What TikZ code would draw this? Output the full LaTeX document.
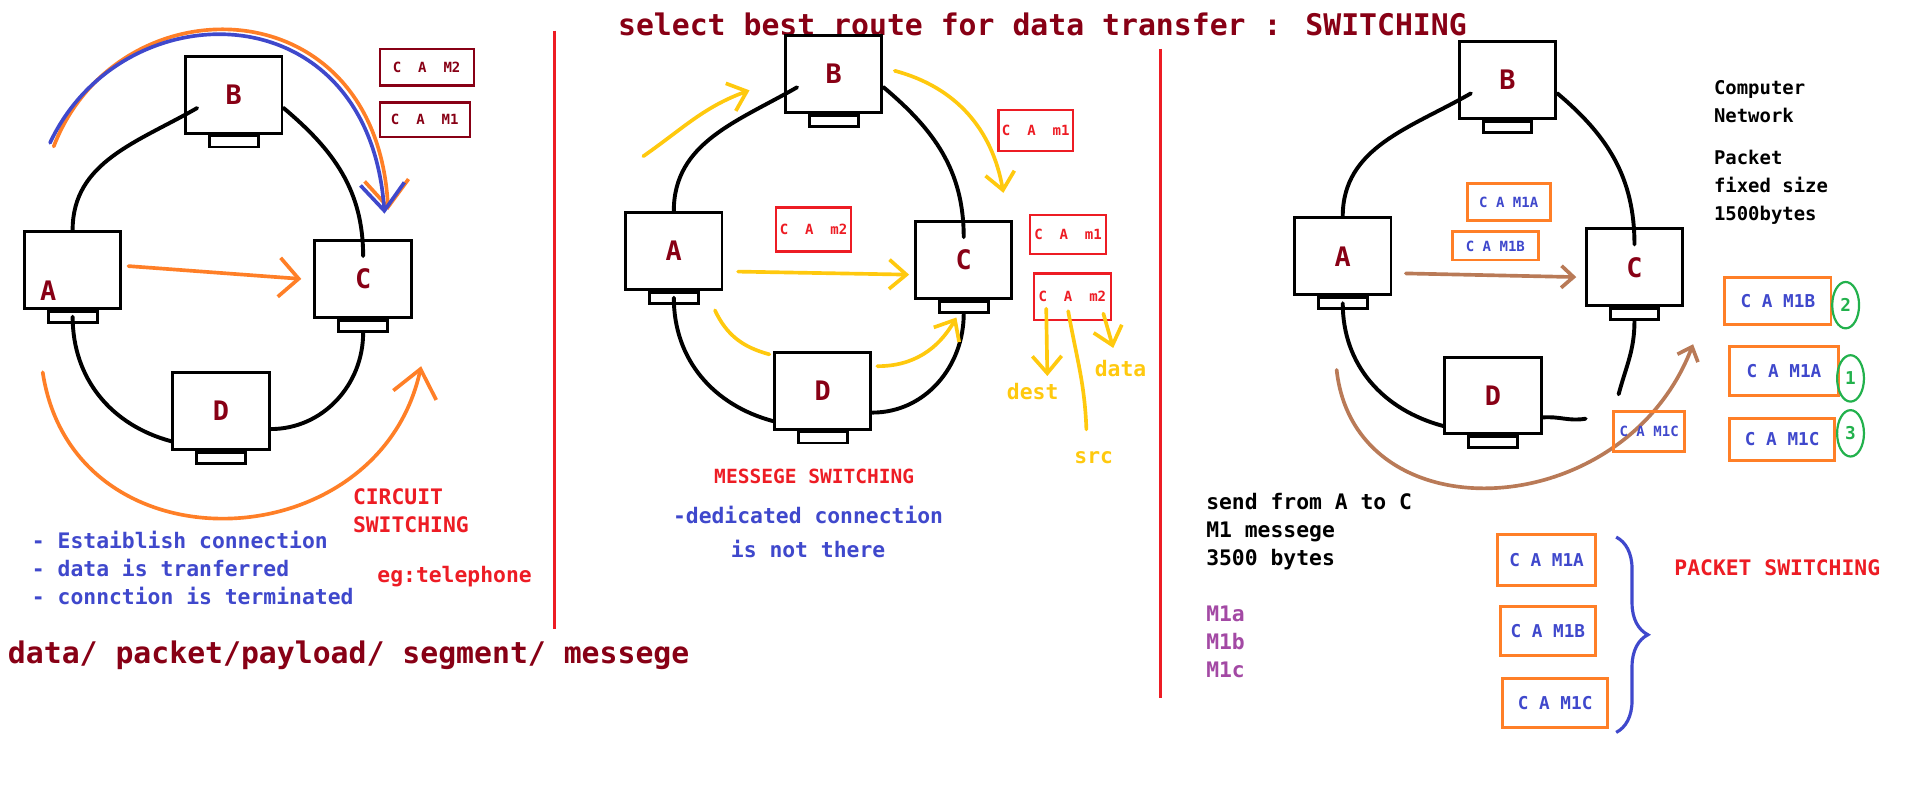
\documentclass[tikz,border=0pt]{standalone}
\usepackage{fontspec}
\setmainfont{DejaVu Sans Mono}
\usetikzlibrary{positioning, arrows.meta, calc, shapes.geometric, decorations.pathreplacing}
\definecolor{dred}{HTML}{880015}
\definecolor{pred}{HTML}{ED1C24}
\definecolor{pblue}{HTML}{3F48CC}
\definecolor{porange}{HTML}{FF7F27}
\definecolor{pyellow}{HTML}{FFC90E}
\definecolor{pbrown}{HTML}{B97A57}
\definecolor{ppurple}{HTML}{A349A4}
\definecolor{pgreen}{HTML}{22B14C}
\newcommand{\hdfont}{\fontsize{24.4}{28}\selectfont\bfseries}
\newcommand{\pcfont}{\fontsize{22}{24}\selectfont\bfseries}
\newcommand{\txfont}{\fontsize{17.5}{23}\selectfont\bfseries}
\newcommand{\cnfont}{\fontsize{15.5}{23}\selectfont\bfseries}
\newcommand{\smfont}{\fontsize{11.5}{13}\selectfont\bfseries}
\newcommand{\pkfont}{\fontsize{14.5}{16}\selectfont\bfseries}
\tikzset{
  pc/.style={draw, line width=2.4pt, minimum width=79pt, minimum height=63pt, inner sep=0pt, text=dred, font=\pcfont},
  base/.style={draw, line width=2.4pt, minimum width=40pt, minimum height=9pt, inner sep=0pt},
  pcname/.style={text=dred, font=\pcfont},
  link/.style={line width=3.2pt, line cap=round},
  sep/.style={pred, line width=2.4pt},
  msg/.style={draw=#1, line width=1.8pt, inner sep=0pt, text=#1, font=\smfont},
  pkt/.style={draw=porange, line width=2.4pt, inner sep=0pt, text=pblue, font=\pkfont},
  num/.style={ellipse, draw=pgreen, line width=1.8pt, minimum width=22pt, minimum height=38pt, inner sep=0pt, text=pgreen, font=\pkfont},
  hd/.style={text=dred, font=\hdfont},
  tx/.style={text=#1, font=\txfont, align=left, inner sep=0pt},
  oarr/.style={porange, line width=3pt, line cap=round, -{Straight Barb[length=16pt,width=32pt]}},
  arc/.style={#1, line width=3pt, line cap=round, -{Straight Barb[length=22pt,width=36pt]}},
  yarr/.style={pyellow, line width=3pt, line cap=round, -{Straight Barb[length=14pt,width=24pt]}},
  yline/.style={pyellow, line width=3pt, line cap=round},
  barr/.style={pbrown, line width=3pt, line cap=round, -{Straight Barb[length=10pt,width=18pt]}},
}
\begin{document}
\begin{tikzpicture}[x=1pt, y=-1pt]
    \useasboundingbox[fill=white] (0,0) rectangle (1568,660);
    \node[hd] (title) at (854,20) {select best route for data transfer : SWITCHING};
    \draw[sep] (454,25) -- (454,515);
    \draw[sep] (951,40) -- (951,572);

    % circuit switching
    \node[pc] (a1) at (59.5,221) {};
    \node[pcname] (a1t) at ($(a1)+(-20,17)$) {A};
    \node[pc] (b1) at (191.5,77.5) {B};
    \node[pc] (c1) at (297.5,228.5) {C};
    \node[pc] (d1) at (181,336.5) {D};
    \node[base, below=0pt of a1] (a1s) {};
    \node[base, below=0pt of b1] (b1s) {};
    \node[base, below=0pt of c1] (c1s) {};
    \node[base, below=0pt of d1] (d1s) {};
    \draw[link]
        (a1.north) to[out=90, in=210] ($(b1)+(-30,11)$)
        (b1.-15) to[out=-40, in=90] ($(c1.north)+(0,14)$)
        (a1s.center) to[out=-90, in=165] ($(d1.west)+(0,25)$)
        ($(d1.east)+(0,15)$) to[out=0, in=-90] (c1s.south);
    \draw[oarr] ($(a1.east)+(5,-3)$) -- ($(c1.west)+(-10,0)$);
    \coordinate (oarcS) at (44,120);
    \coordinate (oarcE) at (318,172);
    \coordinate (arcS) at (41,117);
    \coordinate (arcE) at (315,175);
    \draw[arc=porange] (oarcS) .. controls (96,-16) and (308,-14) .. (oarcE);
    \draw[arc=pblue] (arcS) .. controls (100,-9) and (302,-10) .. (arcE);
    \coordinate (botS) at (35,305);
    \coordinate (botE) at (345,300);
    \draw[arc=porange] (botS) .. controls (60,470) and (310,460) .. (botE);
    \node[msg=dred, minimum width=77pt, minimum height=30pt] (cam2) at (349.5,55) {C\ \ A\ \ M2};
    \node[msg=dred, minimum width=74pt, minimum height=28pt] (cam1) at (348,98) {C\ \ A\ \ M1};
    \node[tx=pred, anchor=north west] (circ) at (289,400) {CIRCUIT\\SWITCHING};
    \node[tx=pred, anchor=west] (eg) at (309,472) {eg:telephone};
    \node[tx=pblue, anchor=north west] (steps) at (26,435) {- Estaiblish connection\\- data is tranferred\\- connction is terminated};
    \node[hd, anchor=west] (terms) at (3,537) {data/ packet/payload/ segment/ messege};

    % message switching
    \node[pc] (a2) at (552,205.5) {A};
    \node[pc] (b2) at (683,60.5) {B};
    \node[pc] (c2) at (789.5,213) {C};
    \node[pc] (d2) at (674,320) {D};
    \node[base, below=0pt of a2] (a2s) {};
    \node[base, below=0pt of b2] (b2s) {};
    \node[base, below=0pt of c2] (c2s) {};
    \node[base, below=0pt of d2] (d2s) {};
    \draw[link]
        (a2.north) to[out=90, in=210] ($(b2)+(-30,11)$)
        (b2.-15) to[out=-40, in=90] ($(c2.north)+(0,14)$)
        (a2s.center) to[out=-90, in=165] ($(d2.west)+(0,25)$)
        ($(d2.east)+(0,18)$) to[out=0, in=-90] (c2s.south);
    \node[msg=pred, minimum width=61pt, minimum height=36pt] (cm2a) at (666.5,188) {C\ \ A\ \ m2};
    \node[msg=pred, minimum width=61pt, minimum height=34pt] (cm1a) at (848.5,107) {C\ \ A\ \ m1};
    \node[msg=pred, minimum width=62pt, minimum height=32pt] (cm1b) at (875,192) {C\ \ A\ \ m1};
    \node[msg=pred, minimum width=63pt, minimum height=38pt] (cm2b) at (878.5,243) {C\ \ A\ \ m2};
    \coordinate (y1s) at (527,128);
    \coordinate (y1e) at (614,74);
    \coordinate (y2s) at (733,58);
    \coordinate (y2e) at (822,158);
    \draw[yarr] (y1s) to[out=35, in=200] (y1e);
    \draw[yarr] (y2s) to[out=-15, in=100] (y2e);
    \draw[yarr] ($(a2.east)+(12,17)$) -- ($(c2.west)+(-4,12)$);
    \draw[yline] ($(a2.south east)+(-7,16)$) to[out=-65, in=165] ($(d2.north west)+(-3,3)$);
    \draw[yarr] ($(d2.east)+(4,-20)$) to[out=0, in=240] ($(c2s.south)+(-6,3)$);
    \node[tx=pyellow] (dest) at (846,321) {dest};
    \node[tx=pyellow] (src) at (896,375) {src};
    \node[tx=pyellow] (data) at (918,302) {data};
    \draw[yarr] ($(cm2b.south west)+(11,-10)$) -- ($(dest.north)+(12,-6)$);
    \draw[yline] ($(cm2b.south west)+(29,-8)$) to[out=-80, in=92] ($(src.north)+(-6,-18)$);
    \draw[yarr] ($(cm2b.south east)+(-7,-6)$) -- ($(data.north)+(-6,-10)$);
    \node[tx=pred, font=\fontsize{16}{20}\selectfont\bfseries] (msw) at (667,390) {MESSEGE SWITCHING};
    \node[tx=pblue, align=center, font=\fontsize{17.5}{28}\selectfont\bfseries] (ded) at (662,436) {-dedicated connection\\is not there};

    % packet switching
    \node[pc] (a3) at (1100,210) {A};
    \node[pc] (b3) at (1235,65.5) {B};
    \node[pc] (c3) at (1339,219) {C};
    \node[pc] (d3) at (1223,324) {D};
    \node[base, below=0pt of a3] (a3s) {};
    \node[base, below=0pt of b3] (b3s) {};
    \node[base, below=0pt of c3] (c3s) {};
    \node[base, below=0pt of d3] (d3s) {};
    \coordinate (dcE) at (1299,343);
    \coordinate (csE) at (1326,323);
    \draw[link]
        (a3.north) to[out=90, in=210] ($(b3)+(-30,11)$)
        (b3.-15) to[out=-40, in=90] ($(c3.north)+(0,14)$)
        (a3s.center) to[out=-90, in=165] ($(d3.west)+(0,25)$)
        ($(d3.east)+(0,18)$) to[out=5, in=190] (dcE)
        (c3s.south) to[out=-90, in=75] (csE);
    \node[pkt, minimum width=68pt, minimum height=31pt, font=\smfont] (p1a) at (1236,165.5) {C A M1A};
    \node[pkt, minimum width=70pt, minimum height=23pt, font=\smfont] (p1b) at (1225,201.5) {C A M1B};
    \draw[barr] ($(a3.east)+(11,14)$) -- ($(c3.west)+(-7,8)$);
    \coordinate (brS) at (1095,303);
    \coordinate (brE) at (1387,282);
    \draw[barr] (brS) .. controls (1110,440) and (1330,430) .. (brE);
    \node[pkt, minimum width=58pt, minimum height=33pt, font=\smfont] (p1c) at (1351,353.5) {C A M1C};
    \node[tx=black, font=\cnfont, anchor=north west] (cn) at (1404,66) {Computer\\Network};
    \node[tx=black, font=\cnfont, anchor=north west] (pk) at (1404,123) {Packet\\fixed size\\1500bytes};
    \node[pkt, minimum width=87pt, minimum height=39pt] (q1) at (1456.5,246.5) {C\ A\ M1B};
    \node[pkt, minimum width=89pt, minimum height=40pt] (q2) at (1461.5,304) {C\ A\ M1A};
    \node[pkt, minimum width=86pt, minimum height=34pt] (q3) at (1460,360) {C\ A\ M1C};
    \node[num] (g1) at (1512,250) {2};
    \node[num] (g2) at (1516,310) {1};
    \node[num] (g3) at (1516,355) {3};
    \node[tx=black, anchor=north west] (sf) at (988,404) {send from A to C\\M1 messege\\3500 bytes};
    \node[tx=ppurple, anchor=north west] (parts) at (988,496) {M1a\\M1b\\M1c};
    \node[pkt, minimum width=80pt, minimum height=42pt] (r1) at (1267,459) {C\ A\ M1A};
    \node[pkt, minimum width=78pt, minimum height=40pt] (r2) at (1268,517) {C\ A\ M1B};
    \node[pkt, minimum width=86pt, minimum height=40pt] (r3) at (1274,576) {C\ A\ M1C};
    \coordinate (brcT) at (1324,440);
    \coordinate (brcB) at (1324,600);
    \draw[pblue, line width=2.6pt, decorate, decoration={brace, amplitude=26pt}] (brcT) -- (brcB);
    \node[tx=pred] (ps) at (1456,465) {PACKET SWITCHING};
\end{tikzpicture}
\end{document}
